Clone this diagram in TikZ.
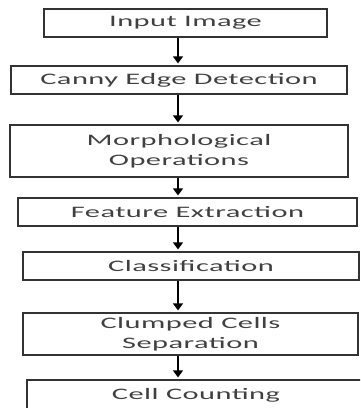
\documentclass[tikz,border=0pt]{standalone}
\usepackage{fontspec}
\setmainfont{Carlito}[FakeStretch=1.9,LetterSpace=3]
\usetikzlibrary{arrows.meta}
\begin{document}
\begin{tikzpicture}[x=1pt, y=-1pt, font=\fontsize{16}{20.5}\selectfont,
  stage/.style={draw=black!80, line width=1.2pt, inner sep=0pt, align=center, text=black!75},
  flow/.style={-{Triangle[width=10pt,length=7pt]}, line width=1.3pt, shorten >=2pt}]
\clip (0,0) rectangle (360,408);

\node[stage, minimum width=283, minimum height=28] (input) at (185.5,23) {Input Image};
\node[stage, minimum width=336, minimum height=28] (canny) at (179,80) {Canny Edge Detection};
\node[stage, minimum width=338, minimum height=52] (morph) at (179,151) {Morphological\\Operations};
\node[stage, minimum width=339, minimum height=28] (feature) at (187.5,212) {Feature Extraction};
\node[stage, minimum width=336, minimum height=28] (classify) at (191,266) {Classification};
\node[stage, minimum width=335, minimum height=42] (clump) at (190.5,334) {Clumped Cells\\Separation};
\node[stage, minimum width=338, minimum height=30] (count) at (196,395) {Cell Counting};

\coordinate (axis) at (178,0);
\foreach \a/\b in {input/canny, canny/morph, morph/feature, feature/classify, classify/clump, clump/count}
  \draw[flow] (\a.south -| axis) -- (\b.north -| axis);
\end{tikzpicture}
\end{document}
